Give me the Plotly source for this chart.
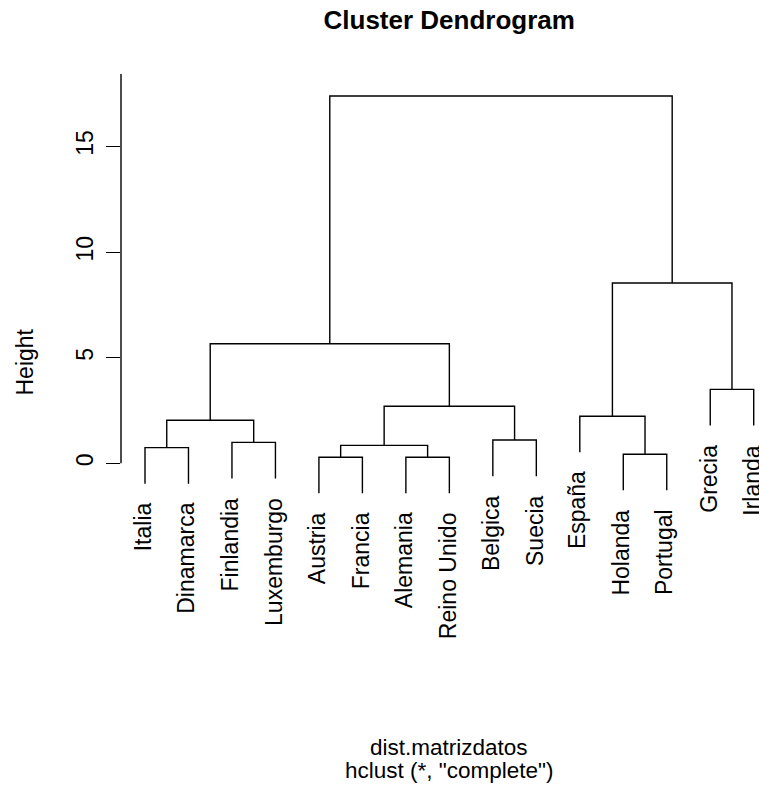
import plotly.graph_objects as go

# ---- data ----
leaves = ["Italia", "Dinamarca", "Finlandia", "Luxemburgo", "Austria", "Francia",
          "Alemania", "Reino Unido", "Belgica", "Suecia", "España", "Holanda",
          "Portugal", "Grecia", "Irlanda"]

# merge steps: a child is a leaf name or the (1-based) number of an earlier step
merge_left = ["Austria", "Alemania", "Holanda", "Italia", 1, "Finlandia", "Belgica",
              4, "España", 5, "Grecia", 8, 9, 12]
merge_right = ["Francia", "Reino Unido", "Portugal", "Dinamarca", 2, "Luxemburgo",
               "Suecia", 6, 3, 7, "Irlanda", 10, 11, 13]
merge_height = [0.29, 0.29, 0.43, 0.74, 0.85, 0.99, 1.10, 2.04, 2.23, 2.70, 3.50,
                5.66, 8.54, 17.39]

y_ticks = [0, 5, 10, 15]
title_text = "Cluster Dendrogram"
sub_line1 = "dist.matrizdatos"
sub_line2 = 'hclust (*, "complete")'
y_title = "Height"

# ---- build dendrogram segments ----
hang = 0.1 * (max(merge_height) - min(merge_height))
node_x, node_y = {}, {}
leaf_bottom = {}
xs, ys = [], []


def child_pos(c, h):
    if isinstance(c, str):
        x = leaves.index(c) + 1
        yb = h - hang
        leaf_bottom[c] = yb
        return x, yb
    return node_x[c], node_y[c]


for i, (a, b, h) in enumerate(zip(merge_left, merge_right, merge_height), start=1):
    xa, ya = child_pos(a, h)
    xb, yb = child_pos(b, h)
    xs += [xa, xa, xb, xb, None]
    ys += [ya, h, h, yb, None]
    node_x[i] = (xa + xb) / 2
    node_y[i] = h

FONT = "Liberation Sans, Arial, Helvetica, sans-serif"

fig = go.Figure()
fig.add_trace(go.Scatter(x=xs, y=ys, mode="lines",
                         line=dict(color="black", width=1.4),
                         hoverinfo="skip", showlegend=False))

# layout geometry (pixels)
W, H = 759, 790
left, top, bottom_px = 121, 74, 651
px_per_x = 43.48
px_per_y = 21.12
zero_px = 463.3
x_lo = 1 - (145 - left) / px_per_x
x_hi = x_lo + (W - left) / px_per_x
y_hi = (zero_px - top) / px_per_y
y_lo = -(bottom_px - zero_px) / px_per_y
plot_h = bottom_px - top
x_mid = 8  # centre of the plot region in data units

annotations = []
for name in leaves:
    annotations.append(dict(x=leaves.index(name) + 1, y=leaf_bottom[name],
                            xref="x", yref="y", text=name, textangle=-90,
                            xanchor="center", yanchor="top", yshift=-17, xshift=-2,
                            showarrow=False,
                            font=dict(family=FONT, size=23, color="black")))

annotations.append(dict(x=x_mid, y=(bottom_px - 747.5) / plot_h,
                        xref="x", yref="paper", text=sub_line1, showarrow=False,
                        xanchor="center", yanchor="middle",
                        font=dict(family=FONT, size=22.5, color="black")))
annotations.append(dict(x=x_mid, y=(bottom_px - 770.5) / plot_h,
                        xref="x", yref="paper", text=sub_line2, showarrow=False,
                        xanchor="center", yanchor="middle",
                        font=dict(family=FONT, size=22.5, color="black")))
annotations.append(dict(x=(24 - left) / (W - left), y=0.5, xref="paper", yref="paper",
                        text=y_title, textangle=-90, showarrow=False,
                        xanchor="center", yanchor="middle",
                        font=dict(family=FONT, size=23, color="black")))

fig.update_layout(
    width=W, height=H,
    margin=dict(l=left, r=0, t=top, b=H - bottom_px, pad=0),
    paper_bgcolor="white", plot_bgcolor="white",
    title=dict(text="<b>" + title_text + "</b>", x=449.2 / W, xref="container",
               xanchor="center", y=1 - 19.5 / H, yref="container", yanchor="middle",
               font=dict(family=FONT, size=26, color="black")),
    xaxis=dict(range=[x_lo, x_hi], visible=False, fixedrange=True),
    yaxis=dict(range=[y_lo, y_hi], tickvals=y_ticks, ticktext=[str(t) for t in y_ticks],
               ticks="outside", ticklen=14, tickwidth=1.2, tickcolor="black",
               tickangle=-90, tickfont=dict(family=FONT, size=23, color="black"),
               showline=False, showgrid=False, zeroline=False, automargin=False,
               ticklabelstandoff=4, fixedrange=True),
    shapes=[dict(type="line", xref="paper", yref="y", x0=0, x1=0,
                 y0=min(y_ticks), y1=y_hi, line=dict(color="black", width=1.4))],
    annotations=annotations,
)

fig.write_html("out.html")
